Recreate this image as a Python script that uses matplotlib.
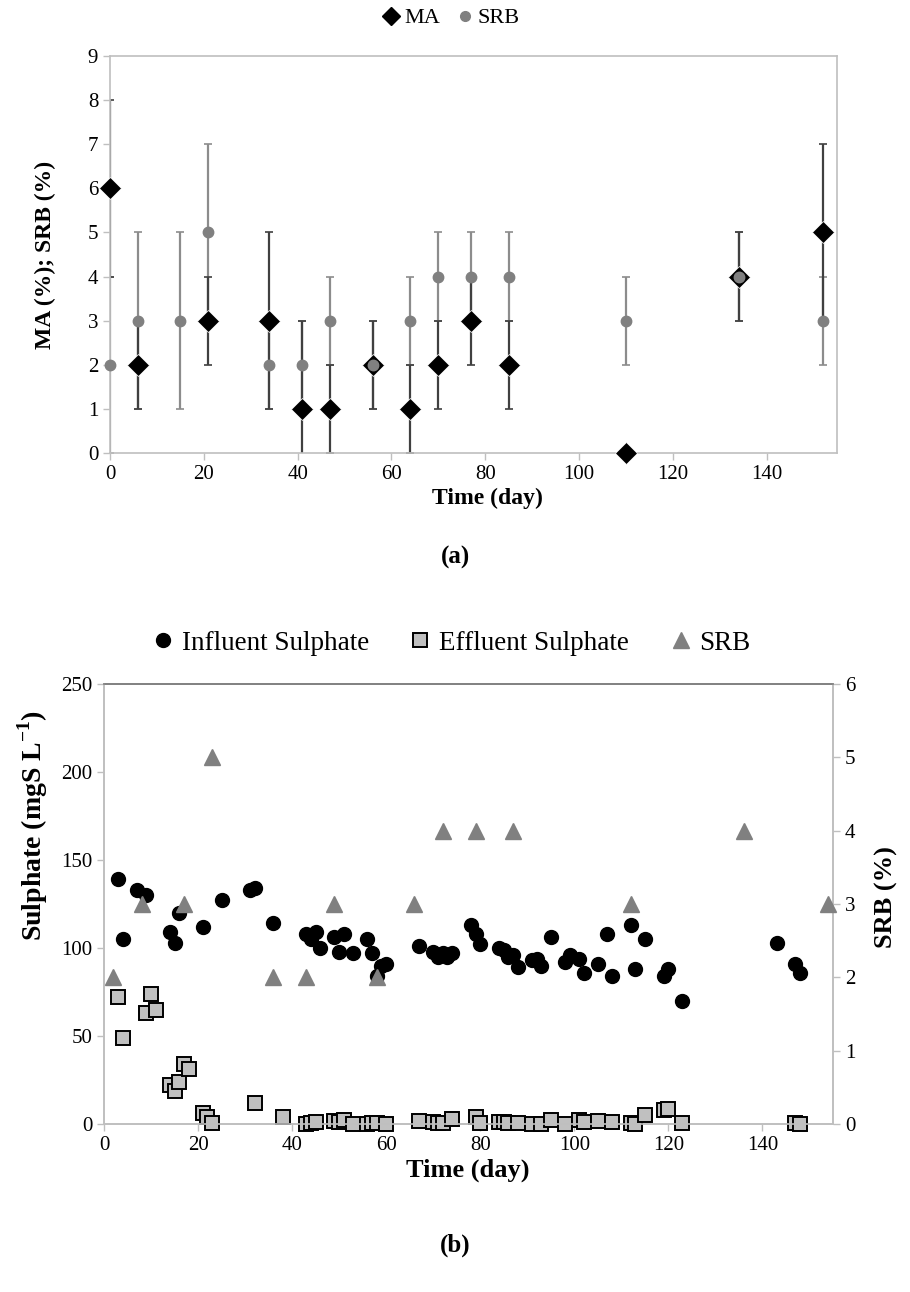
import matplotlib
matplotlib.use("Agg")
import matplotlib.pyplot as plt
from matplotlib.lines import Line2D

plt.rcParams['font.family'] = ['Liberation Serif', 'DejaVu Serif']
plt.rcParams['mathtext.fontset'] = 'custom'
plt.rcParams['mathtext.rm'] = 'Liberation Serif'
plt.rcParams['mathtext.bf'] = 'Liberation Serif:bold'

# ---- panel (a): MA and SRB abundance ----
ma_day = [0, 6, 21, 34, 41, 47, 56, 64, 70, 77, 85, 110, 134, 152]
ma_val = [6, 2, 3, 3, 1, 1, 2, 1, 2, 3, 2, 0, 4, 5]
ma_err = [2, 1, 1, 2, 2, 1, 1, 1, 1, 1, 1, 0, 1, 2]

srb_day = [0, 6, 15, 21, 34, 41, 47, 56, 64, 70, 77, 85, 110, 134, 152]
srb_val = [2, 3, 3, 5, 2, 2, 3, 2, 3, 4, 4, 4, 3, 4, 3]
srb_err = [2, 2, 2, 2, 1, 1, 1, 1, 1, 1, 1, 1, 1, 1, 1]

# ---- panel (b): sulphate ----
inf_day = [3, 4, 7, 9, 14, 15, 16, 21, 25, 31, 32, 36, 43, 44, 45, 46, 49, 50, 51, 53,
           56, 57, 58, 59, 60, 67, 70, 71, 72, 73, 74, 78, 79, 80, 84, 85, 86, 87, 88, 91,
           92, 93, 95, 98, 99, 101, 102, 105, 107, 108, 112, 113, 115, 119, 120, 123, 143, 147, 148]
inf_val = [139, 105, 133, 130, 109, 103, 120, 112, 127, 133, 134, 114, 108, 105, 109, 100, 106, 98, 108, 97,
           105, 97, 84, 90, 91, 101, 98, 95, 97, 95, 97, 113, 108, 102, 100, 99, 95, 96, 89, 93,
           94, 90, 106, 92, 96, 94, 86, 91, 108, 84, 113, 88, 105, 84, 88, 70, 103, 91, 86]

eff_day = [3, 4, 9, 10, 11, 14, 15, 16, 17, 18, 21, 22, 23, 32, 38, 43, 44, 45, 49, 50,
           51, 53, 56, 57, 58, 60, 67, 70, 71, 72, 74, 79, 80, 84, 85, 86, 88, 91, 93, 95,
           98, 101, 102, 105, 108, 112, 113, 115, 119, 120, 123, 147, 148]
eff_val = [72, 49, 63, 74, 65, 22, 19, 24, 34, 31, 6, 4, 0.5, 12, 4, 0, 0.5, 1, 1.5, 1,
           2, 0, 0, 0.5, 0.5, 0, 1.5, 1, 0.5, 0.5, 3, 4, 0.5, 1, 1, 0.5, 0.5, 0, 0, 2,
           0, 2, 1, 1.5, 1, 0.5, 0, 5, 8, 8.5, 0.5, 0.5, 0]

srb2_day = [2, 8, 17, 23, 36, 43, 49, 58, 66, 72, 79, 87, 112, 136, 154]
srb2_val = [2, 3, 3, 5, 2, 2, 3, 2, 3, 4, 4, 4, 3, 4, 3]

x_ticks = [0, 20, 40, 60, 80, 100, 120, 140]

W, H = 910, 1292
fig = plt.figure(figsize=(W / 100, H / 100), dpi=100)

spine_col = '#bfbfbf'
tick_fs = 15
lab_fs = 17


def style_axis(ax):
    for s in ax.spines.values():
        s.set_color(spine_col)
        s.set_linewidth(1.2)
    ax.tick_params(axis='both', colors=spine_col, labelcolor='black',
                   labelsize=tick_fs, length=5, width=1, direction='out')


# ========== (a) ==========
ax1 = fig.add_axes([110 / W, 1 - 453 / H, (837 - 110) / W, (453 - 56) / H])
ax1.errorbar(srb_day, srb_val, yerr=srb_err, fmt='none', ecolor='#8c8c8c',
             elinewidth=1.6, capsize=3, capthick=1.2, zorder=1)
ax1.errorbar(ma_day, ma_val, yerr=ma_err, fmt='none', ecolor='#404040',
             elinewidth=1.6, capsize=3, capthick=1.2, zorder=2)
ax1.plot(ma_day, ma_val, 'D', color='black', ms=11, mec='white', mew=0.5,
         zorder=3, clip_on=False)
ax1.plot(srb_day, srb_val, 'o', color='#808080', ms=7.5, zorder=4, clip_on=False)
ax1.set_xlim(0, 155)
ax1.set_ylim(0, 9)
ax1.set_xticks(x_ticks)
ax1.set_yticks(range(0, 10))
style_axis(ax1)

fig.text(487 / W, 1 - 498 / H, 'Time (day)', ha='center', va='center',
         fontsize=lab_fs, fontweight='bold')
fig.text(45 / W, 1 - 255 / H, 'MA (%); SRB (%)', ha='center', va='center',
         rotation=90, fontsize=lab_fs, fontweight='bold')
fig.text(455 / W, 1 - 557 / H, '(a)', ha='center', va='center',
         fontsize=lab_fs + 1, fontweight='bold')

h_a = [Line2D([], [], ls='none', marker='D', color='black', ms=9),
       Line2D([], [], ls='none', marker='o', color='#808080', ms=7)]
fig.legend(h_a, ['MA', 'SRB'], loc='center', bbox_to_anchor=(450 / W, 1 - 18 / H),
           ncol=2, frameon=False, fontsize=16, handletextpad=0.1,
           columnspacing=0.6, handlelength=1.0)

# ========== (b) ==========
ax2 = fig.add_axes([104 / W, 1 - 1124 / H, (833 - 104) / W, (1124 - 684) / H])
ax2.plot(inf_day, inf_val, 'o', color='black', ms=10, zorder=3, clip_on=False)
ax2.plot(eff_day, eff_val, 's', color='#c0c0c0', mec='black', mew=1.4, ms=9.5,
         zorder=3, clip_on=False)
ax2.set_xlim(0, 155)
ax2.set_ylim(0, 250)
ax2.set_xticks(x_ticks)
ax2.set_yticks(range(0, 251, 50))
style_axis(ax2)
ax2.spines['top'].set_color('#808080')

ax3 = ax2.twinx()
ax3.plot(srb2_day, srb2_val, '^', color='#808080', ms=12, zorder=4, clip_on=False)
ax3.set_ylim(0, 6)
ax3.set_yticks(range(0, 7))
style_axis(ax3)
ax3.spines['top'].set_color('#808080')

fig.text(468 / W, 1 - 1170 / H, 'Time (day)', ha='center', va='center',
         fontsize=lab_fs + 2, fontweight='bold')
fig.text(33 / W, 1 - 826 / H, r'Sulphate (mgS L$^{\mathbf{-1}}$)', ha='center', va='center',
         rotation=90, fontsize=lab_fs + 3, fontweight='bold')
fig.text(886 / W, 1 - 897 / H, 'SRB (%)', ha='center', va='center',
         rotation=90, fontsize=lab_fs + 2, fontweight='bold')
fig.text(455 / W, 1 - 1245 / H, '(b)', ha='center', va='center',
         fontsize=lab_fs + 1, fontweight='bold')

h_b = [Line2D([], [], ls='none', marker='o', color='black', ms=10),
       Line2D([], [], ls='none', marker='s', color='#c0c0c0', mec='black', mew=1.4, ms=10),
       Line2D([], [], ls='none', marker='^', color='#808080', ms=12)]
fig.legend(h_b, ['Influent Sulphate', 'Effluent Sulphate', 'SRB'], loc='center',
           bbox_to_anchor=(450 / W, 1 - 643 / H), ncol=3, frameon=False,
           fontsize=19.5, handletextpad=0.2, columnspacing=1.4, handlelength=1.0)

fig.savefig('out.png', dpi=100)
